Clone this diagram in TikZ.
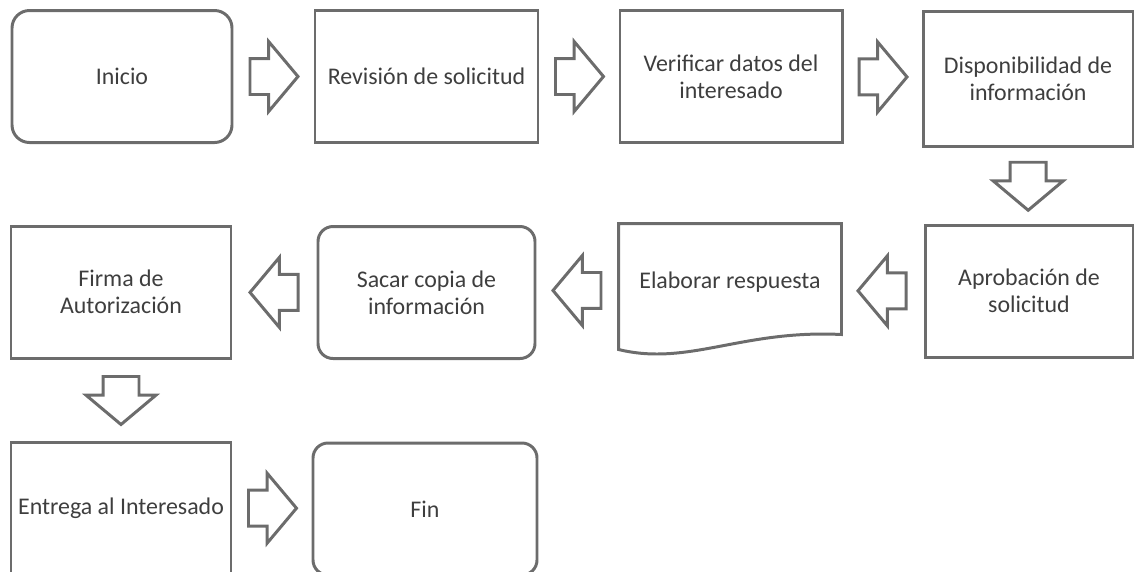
\documentclass[tikz,border=0pt]{standalone}
\usepackage{fontspec}
\setmainfont{Carlito}
\usetikzlibrary{shapes.arrows, calc}
\definecolor{linegray}{RGB}{108,108,108}
\definecolor{textgray}{RGB}{62,62,62}
\tikzstyle{process} = [rectangle, draw=linegray, line width=1.7pt, minimum width=4.4cm, minimum height=2.64cm, text centered, align=center, text=textgray, font=\fontsize{13.6}{15.4}\selectfont]
\tikzstyle{startstop} = [process, rounded corners=0.35cm]
\tikzstyle{document} = [process, draw=none]
\tikzstyle{txt} = [align=center, text=textgray, font=\fontsize{13.6}{15.4}\selectfont]
\tikzstyle{line} = [draw=linegray, line width=1.7pt]
\tikzstyle{blockarrow} = [single arrow, anchor=tail, draw=linegray, line width=1.7pt, minimum height=0.96cm, inner xsep=0pt, inner ysep=0.33cm, single arrow head extend=0.34cm, single arrow tip angle=100]

\begin{document}
\begin{tikzpicture}
            \useasboundingbox (0,0) rectangle (22.68,-11.42);

            \node [startstop] at (2.44,-1.53) (inicio) {Inicio};
            \node [process, minimum width=4.46cm] at (8.53,-1.53) (revision) {Revisión de solicitud};
            \node [process, minimum width=4.44cm] at (14.62,-1.53) (verificar) {Verificar datos del\\interesado};
            \node [process, minimum width=4.2cm, minimum height=2.7cm] at (20.56,-1.58) (disponibilidad) {Disponibilidad de\\información};
            \node [process, minimum width=4.16cm] at (20.58,-5.82) (aprobacion) {Aprobación de\\solicitud};
            \node [document, minimum height=2.6cm] at (14.6,-5.8) (elaborar) {};
            \node [startstop, rounded corners=0.3cm, minimum width=4.34cm] at (8.53,-5.85) (sacar) {Sacar copia de\\información};
            \node [process] at (2.42,-5.84) (firma) {Firma de\\Autorización};
            \node [process] at (2.42,-10.16) (entrega) {Entrega al Interesado};
            \node [startstop, rounded corners=0.3cm, minimum width=4.48cm] at (8.5,-10.18) (fin) {Fin};

            % texto de la hoja, algo arriba del centro
            \node [txt] at ([yshift=0.16cm]elaborar.center) (elaborartxt) {Elaborar respuesta};

            % hoja con borde ondulado
            \draw [line] (elaborar.north west) -- (elaborar.north east) -- ([yshift=0.44cm]elaborar.south east)
                .. controls ([shift={(-2cm,0.54cm)}]elaborar.south east) and ([shift={(1.4cm,-0.2cm)}]elaborar.south west)
                .. ([yshift=0.14cm]elaborar.south west) -- cycle;

            % flechas de bloque: la cola a 0.5cm antes del punto medio
            \node [blockarrow] at ($($(inicio.east)!0.5!(revision.west)$)!0.5cm!(inicio.east)$) (a1) {};
            \node [blockarrow] at ($($(revision.east)!0.5!(verificar.west)$)!0.5cm!(revision.east)$) (a2) {};
            \node [blockarrow] at ($($(verificar.east)!0.5!(disponibilidad.west)$)!0.5cm!(verificar.east)$) (a3) {};
            \node [blockarrow, rotate=-90] at ($($(disponibilidad.south)!0.5!(aprobacion.north)$)!0.5cm!(disponibilidad.south)$) (a4) {};
            \node [blockarrow, rotate=180] at ($($(aprobacion.west)!0.5!(elaborar.east)$)!0.5cm!(aprobacion.west)$) (a5) {};
            \node [blockarrow, rotate=180] at ($($(elaborar.west)!0.5!(sacar.east)$)!0.5cm!(elaborar.west)$) (a6) {};
            \node [blockarrow, rotate=180] at ($($(sacar.west)!0.5!(firma.east)$)!0.5cm!(sacar.west)$) (a7) {};
            \node [blockarrow, rotate=-90] at ($($(firma.south)!0.5!(entrega.north)$)!0.5cm!(firma.south)$) (a8) {};
            \node [blockarrow] at ($($(entrega.east)!0.5!(fin.west)$)!0.5cm!(entrega.east)$) (a9) {};
\end{tikzpicture}
\end{document}
